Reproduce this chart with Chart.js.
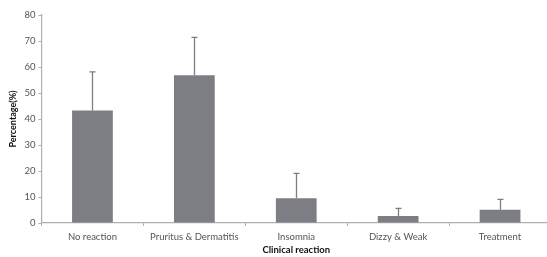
<!DOCTYPE html>
<html><head><meta charset="utf-8">
<script src="https://cdn.jsdelivr.net/npm/chart.js@4/dist/chart.umd.min.js"></script>
<style>html,body{margin:0;padding:0;overflow:hidden;background:#fff}#wrap{width:551px;height:257px}</style>
</head><body><div id="wrap"><canvas id="c" width="551" height="257"></canvas></div>
<script>
const categories = ["No reaction","Pruritus & Dermatitis","Insomnia","Dizzy & Weak","Treatment"];
const percentages = [43.3, 56.8, 9.5, 2.7, 5.1];
const errors = [14.8, 14.6, 9.6, 2.9, 4.0];
const yTicks = [0,10,20,30,40,50,60,70,80];

const errorBars = {
  id:'errorBars',
  afterDatasetsDraw(chart){
    const ctx = chart.ctx, y = chart.scales.y, meta = chart.getDatasetMeta(0);
    ctx.save();
    ctx.strokeStyle = '#7d7e83'; ctx.lineWidth = 1.3;
    meta.data.forEach((bar,i)=>{
      const x = Math.round(bar.x)+0.5;
      const y0 = y.getPixelForValue(percentages[i]);
      const y1 = y.getPixelForValue(percentages[i]+errors[i]);
      ctx.beginPath(); ctx.moveTo(x,y0); ctx.lineTo(x,y1);
      ctx.moveTo(x-3,y1); ctx.lineTo(x+3,y1); ctx.stroke();
    });
    ctx.restore();
  }
};

new Chart(document.getElementById('c'),{
  type:'bar',
  data:{labels:categories,datasets:[{data:percentages,backgroundColor:'#7d7e83',borderWidth:0,categoryPercentage:1,barPercentage:0.4}]},
  options:{
    responsive:false,animation:false,devicePixelRatio:1,
    layout:{padding:{top:15,right:0,left:8,bottom:1}},
    plugins:{legend:{display:false},tooltip:{enabled:false}},
    scales:{
      x:{
        grid:{display:true,drawOnChartArea:false,drawTicks:true,tickLength:3,color:'#b0b0b0',offset:true},
        border:{color:'#b0b0b0',width:1.2},
        ticks:{color:'#555',font:{family:'Lato',size:9.5},padding:5,maxRotation:0},
        title:{display:true,text:'Clinical reaction',color:'#111',font:{family:'Lato',size:9.5,weight:'bold'},padding:{top:3,bottom:0}},
        afterFit(s){s.height=33;}
      },
      y:{
        min:0,max:80,
        afterBuildTicks(s){s.ticks=yTicks.map(v=>({value:v}));},
        grid:{display:true,drawOnChartArea:false,drawTicks:true,tickLength:3,color:'#b0b0b0'},
        border:{color:'#b0b0b0',width:1.2},
        ticks:{color:'#555',font:{family:'Lato',size:9.5},padding:3},
        title:{display:true,text:'Percentage(%)',color:'#111',font:{family:'Lato',size:9,weight:'bold'},padding:{top:0,bottom:4}},
        afterFit(s){s.width=33.5;}
      }
    }
  },
  plugins:[errorBars]
});
</script></body></html>
